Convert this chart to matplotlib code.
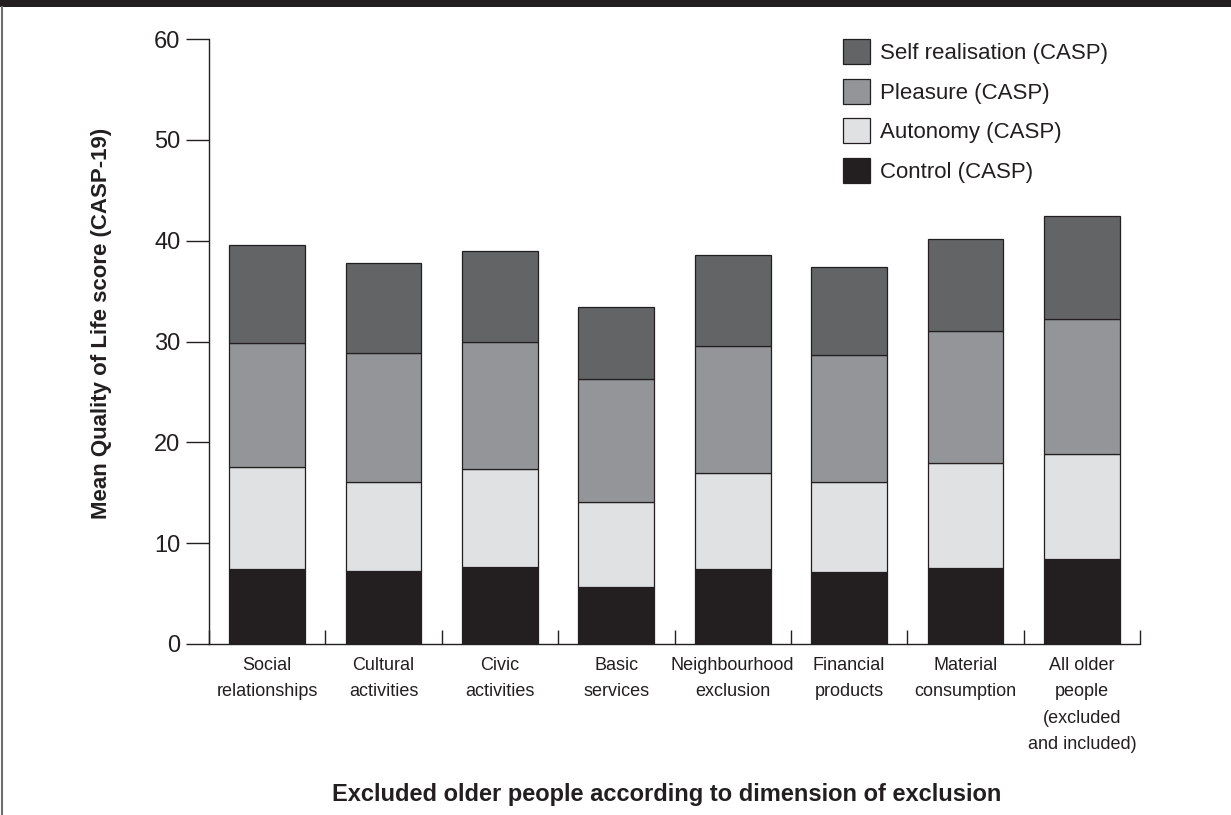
import numpy as np
import matplotlib.pyplot as plt
from matplotlib.patches import Patch, Rectangle
from matplotlib.lines import Line2D

plt.rcParams['font.family'] = ['Liberation Sans', 'DejaVu Sans']

# Data
categories = ['Social\nrelationships', 'Cultural\nactivities', 'Civic\nactivities',
              'Basic\nservices', 'Neighbourhood\nexclusion', 'Financial\nproducts',
              'Material\nconsumption', 'All older\npeople\n(excluded\nand included)']
control = [7.4, 7.2, 7.6, 5.7, 7.4, 7.1, 7.5, 8.4]
autonomy = [10.2, 8.9, 9.8, 8.4, 9.6, 9.0, 10.5, 10.4]
pleasure = [12.3, 12.8, 12.6, 12.2, 12.6, 12.6, 13.0, 13.4]
self_real = [9.7, 8.9, 9.0, 7.1, 9.0, 8.7, 9.2, 10.2]

series = [
    ('Control (CASP)', control, '#231f20'),
    ('Autonomy (CASP)', autonomy, '#e0e1e3'),
    ('Pleasure (CASP)', pleasure, '#939598'),
    ('Self realisation (CASP)', self_real, '#636466'),
]

ink = '#231f20'
W, H = 1231, 815
fig = plt.figure(figsize=(W / 100, H / 100), dpi=100)
ax = fig.add_axes([209 / W, 1 - 644 / H, (1140 - 209) / W, (644 - 39) / H])

x = np.arange(len(categories))
bottom = np.zeros(len(categories))
handles = []
for label, vals, col in series:
    ax.bar(x, vals, width=0.65, bottom=bottom, color=col, edgecolor=ink, linewidth=0.9)
    bottom += np.array(vals)
    handles.append(Patch(facecolor=col, edgecolor=ink, linewidth=0.9, label=label))

ax.set_xlim(-0.5, len(categories) - 0.5)
ax.set_ylim(0, 60)

for s in ['top', 'right']:
    ax.spines[s].set_visible(False)
for s in ['left', 'bottom']:
    ax.spines[s].set_color(ink)
    ax.spines[s].set_linewidth(1.0)

ax.set_yticks([0, 10, 20, 30, 40, 50, 60])
ax.tick_params(axis='y', direction='out', length=16.5, width=1, color=ink,
               labelsize=17, labelcolor=ink, pad=4)

# category boundaries get small inward ticks, labels sit between them
ax.set_xticks(np.arange(len(categories) + 1) - 0.5)
ax.set_xticklabels([])
ax.tick_params(axis='x', which='major', direction='in', length=10, width=1, color=ink)
ax.set_xticks(x, minor=True)
ax.set_xticklabels(categories, minor=True, fontsize=13, color=ink, linespacing=1.74)
ax.tick_params(axis='x', which='minor', length=0, pad=9)

fig.text(102 / W, 1 - 323 / H, 'Mean Quality of Life score (CASP-19)',
         rotation=90, ha='center', va='center', fontsize=16, fontweight='bold', color=ink)
fig.text(667 / W, 1 - 795 / H,
         'Excluded older people according to dimension of exclusion',
         ha='center', va='center', fontsize=17, fontweight='bold', color=ink)

ax.legend(handles=handles[::-1], loc='upper left', frameon=False,
          bbox_to_anchor=(843 / W, 1 - 39 / H), bbox_transform=fig.transFigure,
          fontsize=16, handlelength=1.2, handleheight=1.35, labelspacing=0.66,
          handletextpad=0.45, borderpad=0, borderaxespad=0, labelcolor=ink)

# dark banner at the top and left frame line
fig.add_artist(Rectangle((0, 1 - 7 / H), 1, 7 / H, transform=fig.transFigure,
                         color=ink, lw=0))
fig.add_artist(Line2D([2 / W, 2 / W], [0, 1 - 7 / H], transform=fig.transFigure,
                      color='#6d6e70', lw=1.5))

fig.savefig('out.png', dpi=100)
